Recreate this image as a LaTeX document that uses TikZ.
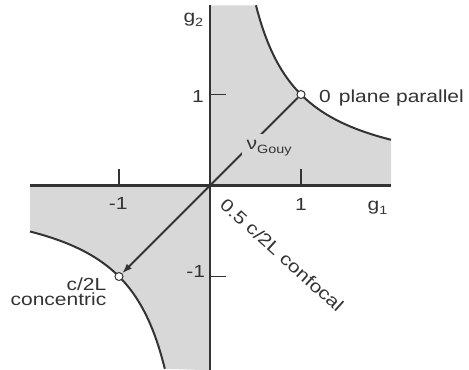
\documentclass[tikz,border=0pt]{standalone}
\usepackage{fontspec}
\setmainfont[FakeStretch=1.2]{Liberation Sans}
\usetikzlibrary{arrows.meta}
\definecolor{regiongray}{HTML}{D8D8D8}
\definecolor{ink}{HTML}{333333}
\begin{document}
\begin{tikzpicture}[x=91pt,y=91pt,
  lbl/.style={font=\fontsize{17.5}{15}\selectfont, text=ink, inner sep=0pt},
  axisline/.style={draw=ink, line width=2.3pt},
  curve/.style={draw=ink, line width=2pt},
  tickline/.style={draw=ink, line width=1.2pt},
  diag/.style={draw=ink, line width=1.8pt},
  dot/.style={circle, draw=ink, fill=white, line width=1pt, inner sep=0pt, minimum size=8pt},
  ]
\useasboundingbox (-2.3077,-2.0165) rectangle (2.8462,2.0385);
% shaded stable regions
\fill[regiongray] (0,0) -- (0,1.98) -- plot[domain=0.505:1.99,samples=80] (\x,{1/\x}) -- (1.99,0) -- cycle;
\fill[regiongray] (0,0) -- (-1.978,0) -- plot[domain=-1.978:-0.496,samples=80] (\x,{1/\x}) -- (0,-2.03) -- cycle;
% hyperbola branches
\draw[curve] plot[domain=0.505:1.99,samples=80] (\x,{1/\x});
\draw[curve] plot[domain=-1.978:-0.496,samples=80] (\x,{1/\x});
% axes
\coordinate (xl) at (-1.978,0);
\coordinate (xr) at (1.99,0);
\coordinate (yb) at (0,-2.03);
\coordinate (yt) at (0,1.98);
\draw[axisline] (xl) -- (xr);
\draw[axisline] (yb) -- (yt);
% ticks
\draw[tickline] (1,0) -- (1,0.18);
\draw[tickline] (-1,0) -- (-1,0.18);
\draw[tickline] (0,1) -- (0.18,1);
\draw[tickline] (0,-1) -- (0.18,-1);
% tick labels
\node[lbl, anchor=base] (ty1) at (-0.132,0.907) {1};
\node[lbl, anchor=base] (tym) at (-0.157,-1.0055) {-1};
\node[lbl, anchor=base] (txm) at (-1.009,-0.269) {-1};
\node[lbl, anchor=base] (tx1) at (1.0,-0.275) {1};
% axis labels
\node[lbl, anchor=base west] (g2) at (-0.293,1.791) {g\raisebox{-4pt}{\fontsize{12}{12}\selectfont 2}};
\node[lbl, anchor=base west] (g1) at (1.731,-0.275) {g\raisebox{-4pt}{\fontsize{12}{12}\selectfont 1}};
% points
\node[dot] (pp) at (1,1) {};
\node[dot] (cc) at (-1,-1) {};
\draw[diag, -{Latex[length=10pt,width=7pt]}] (pp) -- (cc);
\node[lbl, fill=regiongray, inner xsep=5pt, inner ysep=6pt, anchor=base west] (nu) at (0.346,0.401)
  {ν\raisebox{-4pt}{\fontsize{12}{12}\selectfont Gouy}};
% point labels
\node[lbl, anchor=base west] (ppl) at (1.198,0.912) {0\hspace{8pt}plane parallel};
\node[lbl, anchor=base east] (ccl1) at (-1.137,-1.154) {c/2L};
\node[lbl, anchor=base east] (ccl2) at (-1.137,-1.321) {concentric};
\node[lbl, rotate=-42] (cf) at (0.791,-0.764) {0.5 c/2L confocal};
\end{tikzpicture}
\end{document}
